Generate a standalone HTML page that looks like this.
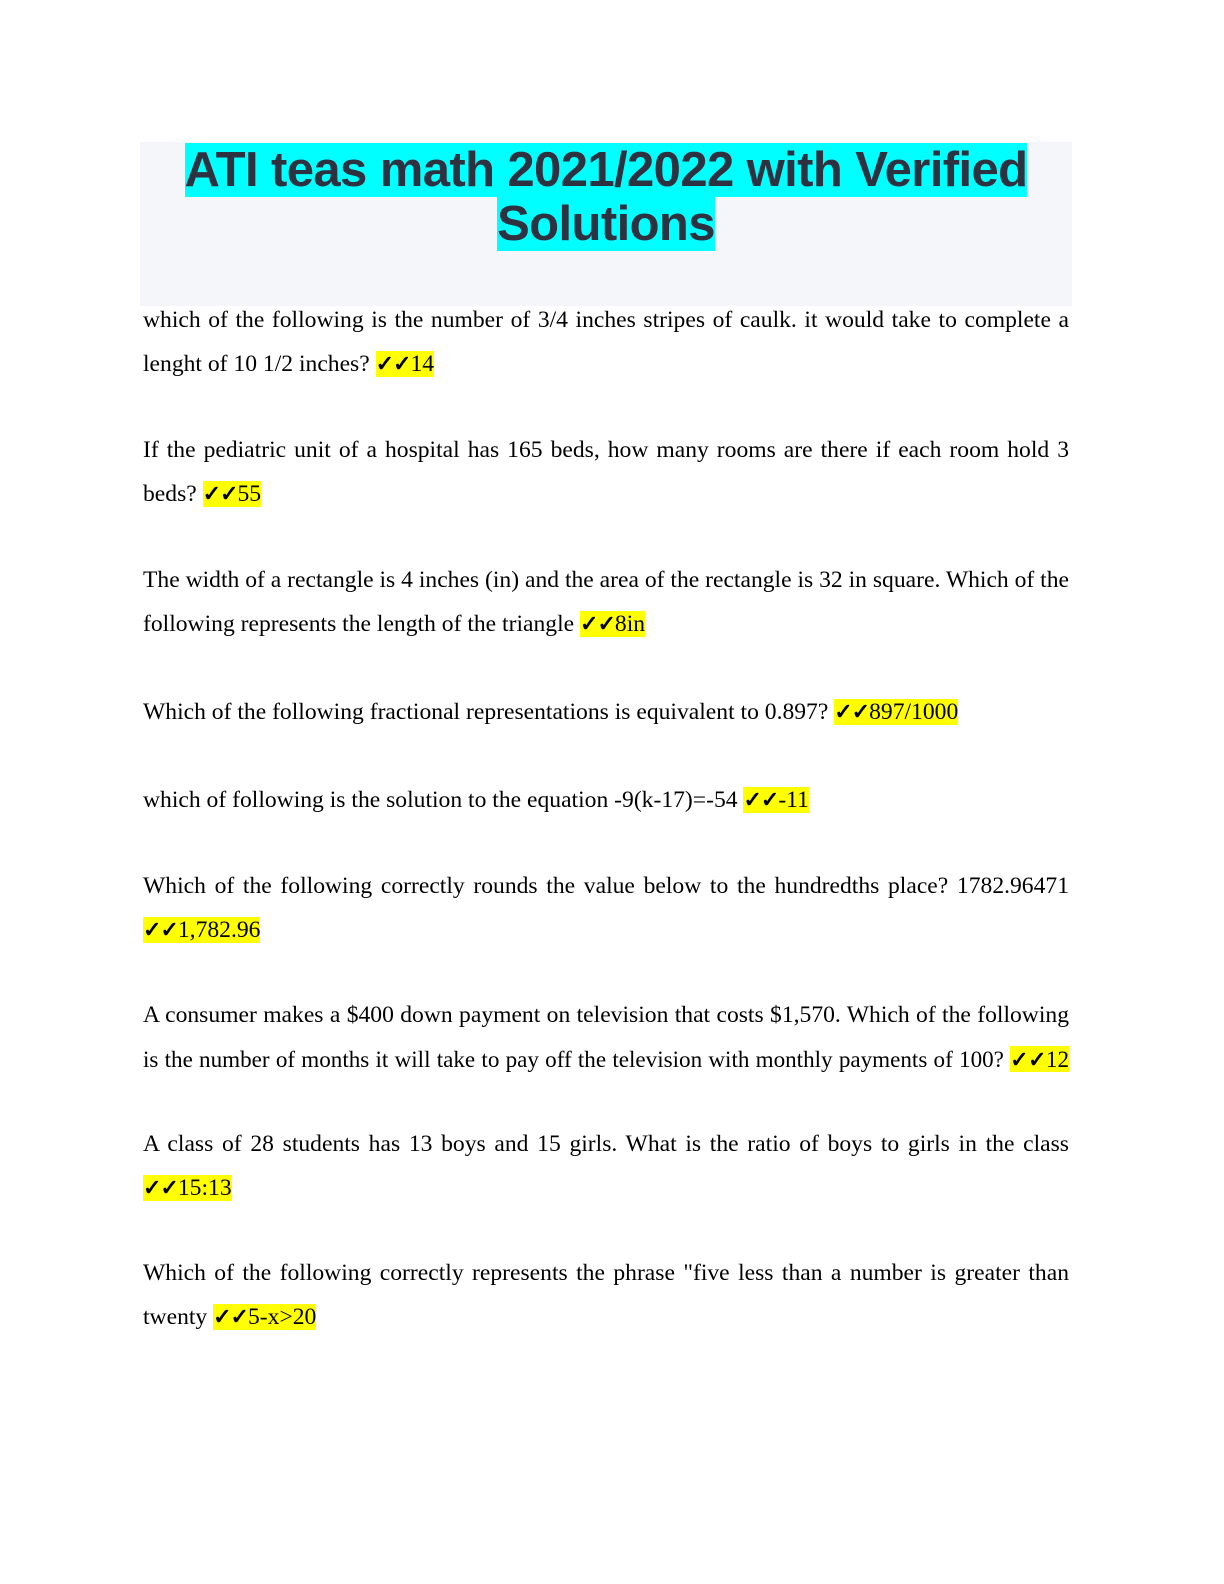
<!DOCTYPE html>
<html><head><meta charset="utf-8"><style>
body{margin:0;width:1224px;height:1584px;background:#fff;position:relative;overflow:hidden}
.tb{position:absolute;left:140px;top:142px;width:932px;height:164px;background:#f5f6fa}
.t{position:absolute;left:140px;top:143px;width:932px;text-align:center;font:bold 49px/54px "Liberation Sans",sans-serif;color:#2e3140;letter-spacing:-0.6px}
.t span{background:#00ffff}
.p{position:absolute;left:143px;width:926px;margin:0;font:23.6px/44px "Liberation Serif",serif;color:#000;white-space:nowrap}
.j{text-align:justify;text-align-last:justify}
.h{background:#ffff00}
.c{font-weight:bold;font-size:22px;letter-spacing:-1px}
</style></head><body>
<div class="tb"></div>
<div class="t"><span>ATI teas math 2021/2022 with Verified</span><br><span>Solutions</span></div>
<div class="p" style="top:298px"><div class="j">which of the following is the number of 3/4 inches stripes of caulk. it would take to complete a</div><div>lenght of 10 1/2 inches? <span class="h"><span class="c">✓✓</span>14</span></div></div>
<div class="p" style="top:428px"><div class="j">If the pediatric unit of a hospital has 165 beds, how many rooms are there if each room hold 3</div><div>beds? <span class="h"><span class="c">✓✓</span>55</span></div></div>
<div class="p" style="top:558px"><div class="j">The width of a rectangle is 4 inches (in) and the area of the rectangle is 32 in square. Which of the</div><div>following represents the length of the triangle <span class="h"><span class="c">✓✓</span>8in</span></div></div>
<div class="p" style="top:690px"><div>Which of the following fractional representations is equivalent to 0.897? <span class="h"><span class="c">✓✓</span>897/1000</span></div></div>
<div class="p" style="top:778px"><div>which of following is the solution to the equation -9(k-17)=-54 <span class="h"><span class="c">✓✓</span>-11</span></div></div>
<div class="p" style="top:864px"><div class="j">Which of the following correctly rounds the value below to the hundredths place? 1782.96471</div><div><span class="h"><span class="c">✓✓</span>1,782.96</span></div></div>
<div class="p" style="top:993px"><div class="j">A consumer makes a $400 down payment on television that costs $1,570. Which of the following</div><div class="j" style="font-size:23.1px">is the number of months it will take to pay off the television with monthly payments of 100? <span class="h"><span class="c">✓✓</span>12</span></div></div>
<div class="p" style="top:1122px"><div class="j">A class of 28 students has 13 boys and 15 girls. What is the ratio of boys to girls in the class</div><div><span class="h"><span class="c">✓✓</span>15:13</span></div></div>
<div class="p" style="top:1251px"><div class="j">Which of the following correctly represents the phrase "five less than a number is greater than</div><div>twenty <span class="h"><span class="c">✓✓</span>5-x&gt;20</span></div></div>
</body></html>
